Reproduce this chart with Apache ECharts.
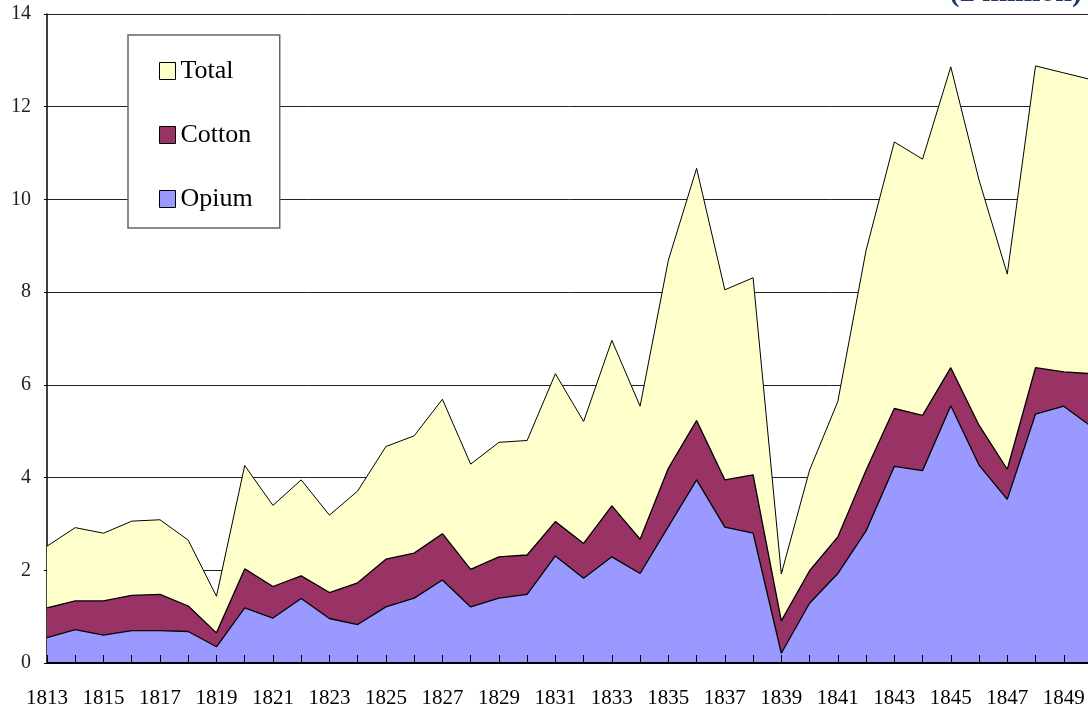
<!DOCTYPE html>
<html>
<head>
<meta charset="utf-8">
<script src="https://cdn.jsdelivr.net/npm/echarts@6/dist/echarts.min.js"></script>
<style>
html,body{margin:0;padding:0;overflow:hidden;background:#fff;width:1088px;height:707px;}
#chart{width:1100px;height:707px;}
</style>
</head>
<body>
<div id="chart"></div>
<script>
const years = ['1813','1814','1815','1816','1817','1818','1819','1820','1821','1822','1823','1824','1825','1826','1827','1828','1829','1830','1831','1832','1833','1834','1835','1836','1837','1838','1839','1840','1841','1842','1843','1844','1845','1846','1847','1848','1849','1850'];
const opium = [0.55,0.72,0.60,0.70,0.70,0.68,0.35,1.19,0.97,1.39,0.96,0.83,1.21,1.40,1.79,1.21,1.40,1.48,2.31,1.83,2.29,1.93,2.94,3.95,2.93,2.80,0.21,1.29,1.93,2.85,4.24,4.15,5.55,4.27,3.53,5.37,5.54,5.09];
const cotton = [0.64,0.62,0.74,0.76,0.78,0.55,0.30,0.84,0.68,0.49,0.56,0.90,1.03,0.97,1.00,0.81,0.89,0.85,0.74,0.75,1.10,0.74,1.26,1.28,1.02,1.26,0.70,0.70,0.79,1.31,1.25,1.19,0.82,0.86,0.65,1.00,0.74,1.15];
const total = [2.52,2.92,2.80,3.06,3.09,2.65,1.44,4.26,3.40,3.95,3.19,3.71,4.67,4.90,5.69,4.29,4.76,4.80,6.24,5.21,6.96,5.54,8.69,10.67,8.05,8.31,1.92,4.16,5.64,8.90,11.24,10.87,12.86,10.42,8.39,12.88,12.73,12.58];
const unitLabel = '(£ million)';

const FONT = '"Liberation Serif", "DejaVu Serif", serif';
const chart = echarts.init(document.getElementById('chart'), null, {renderer:'canvas'});
chart.setOption({
  animation: false,
  backgroundColor: '#fff',
  grid: {left: 47, top: 14, right: 8, bottom: 44, containLabel: false, outerBoundsMode: 'none'},
  graphic: [{
    type: 'text', right: 18, top: -22,
    style: {text: unitLabel, font: 'bold 30px ' + FONT, fill: '#1f3a68'}
  }],
  legend: {
    orient: 'vertical', left: 128, top: 35,
    data: ['Total','Cotton','Opium'],
    icon: 'rect', itemWidth: 16, itemHeight: 17, itemGap: 38, itemTextGap: 7,
    padding: [23, 27, 16, 31],
    backgroundColor: '#fff', borderColor: '#666', borderWidth: 1.5, borderRadius: 0,
    itemStyle: {borderColor: '#000', borderWidth: 1},
    textStyle: {fontFamily: FONT, fontSize: 26, color: '#000', lineHeight: 17}
  },
  xAxis: {
    type: 'category', data: years, boundaryGap: false,
    axisLine: {lineStyle: {color: '#000', width: 2}},
    axisTick: {inside: true, length: 8, interval: 0, lineStyle: {color: '#000', width: 1}},
    axisLabel: {interval: 1, margin: 25, fontFamily: FONT, fontSize: 21, color: '#000'},
    splitLine: {show: false}, z: 10
  },
  yAxis: {
    type: 'value', min: 0, max: 14, interval: 2,
    axisLine: {show: true, lineStyle: {color: '#000', width: 1.5}},
    axisTick: {show: true, length: 3, lineStyle: {color: '#000'}},
    axisLabel: {margin: 16, fontFamily: FONT, fontSize: 20, color: '#222'},
    splitLine: {show: true, lineStyle: {color: '#222', width: 1}}
  },
  series: [
    {name: 'Total', type: 'line', data: total, showSymbol: false, symbol: 'none',
     itemStyle: {color: '#FFFFCC'}, lineStyle: {color: '#000', width: 1},
     areaStyle: {color: '#FFFFCC', opacity: 1}, z: 2},
    {name: 'Opium', type: 'line', stack: 'trade', data: opium, showSymbol: false, symbol: 'none',
     itemStyle: {color: '#9999FF'}, lineStyle: {color: '#000', width: 1.3},
     areaStyle: {color: '#9999FF', opacity: 1}, z: 4},
    {name: 'Cotton', type: 'line', stack: 'trade', data: cotton, showSymbol: false, symbol: 'none',
     itemStyle: {color: '#993366'}, lineStyle: {color: '#000', width: 1.3},
     areaStyle: {color: '#993366', opacity: 1}, z: 3}
  ]
});
</script>
</body>
</html>
